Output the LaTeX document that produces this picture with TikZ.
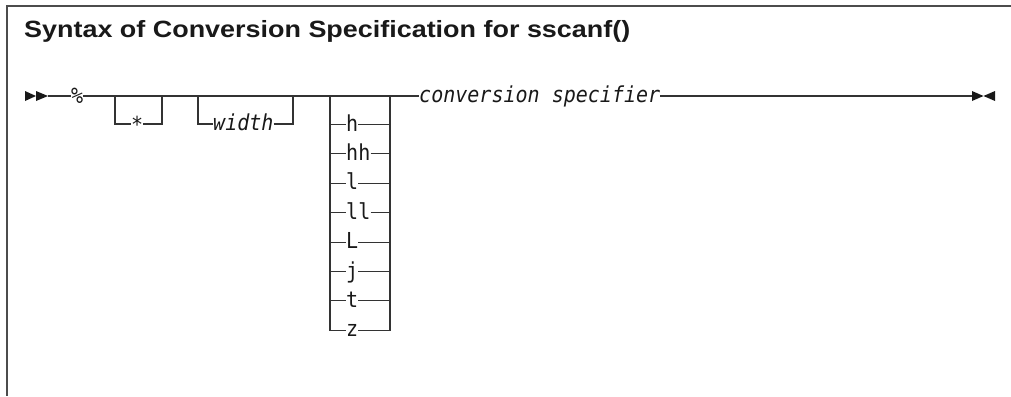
\documentclass[tikz,border=0pt]{standalone}
\usepackage{fontspec}
\setmainfont{Liberation Sans}
\newfontfamily\railfont[FakeStretch=0.91]{DejaVu Sans Mono}
\newfontfamily\headfont[FakeStretch=1.146]{Liberation Sans Bold}
\usetikzlibrary{positioning}

\begin{document}
\begin{tikzpicture}[
        x=1pt, y=-1pt,
        rail/.style={draw=black!80, line width=1.1pt},
        frame/.style={draw=black!70, line width=1.3pt},
        stop/.style={fill=black!90},
        kw/.style={inner sep=0pt, text height=15pt, text depth=2pt, anchor=west,
            text=black!90, font=\railfont\fontsize{22}{24}\selectfont},
        var/.style={kw, font=\railfont\itshape\fontsize{22}{24}\selectfont},
        heading/.style={inner sep=0pt, anchor=base west, text=black!90,
            font=\headfont\fontsize{23.5}{26}\selectfont}
    ]
    \useasboundingbox (0,0) rectangle (1011,396);
    \draw[frame] (1011,6) -- (7,6) -- (7,396);

    \node[heading] (title) at (24,37.5) {Syntax of Conversion Specification for sscanf()};

    \coordinate (in) at (48,96);
    \coordinate (out) at (972,96);
    \fill[stop] (in) ++(-23,-5) -- ++(11,5) -- ++(-11,5) -- cycle
        (in) ++(-12,-5) -- ++(12,5) -- ++(-12,5) -- cycle;
    \fill[stop] (out) ++(0,-5) -- ++(11.5,5) -- ++(-11.5,5) -- cycle
        (out) ++(23,-5) -- ++(-11.5,5) -- ++(11.5,5) -- cycle;

    \node[var] (pct) at (71,96) {\raisebox{-1.5pt}{\%}};
    \node[var] (conv) at (419,96) {conversion specifier};
    \draw[rail] (in) -- (pct) (pct) -- (conv) (conv) -- (out);

    \coordinate (starL) at (115,96);
    \coordinate (starR) at (162,96);
    \node[kw] (star) at (131,124) {\raisebox{-1.5pt}{*}};
    \draw[rail] (starL) |- (star) (star) -| (starR);

    \coordinate (widthL) at (198,96);
    \coordinate (widthR) at (293,96);
    \node[var] (width) at (213,124) {width};
    \draw[rail] (widthL) |- (width) (width) -| (widthR);

    \coordinate (modL) at (330,96);
    \coordinate (modR) at (390,96);
    \foreach \m [count=\i from 0] in {h,hh,l,ll,L,j,t,z} {
        \node[kw] (mod\i) at (346,{124.5+29.4*\i}) {\m};
        \draw[rail] (mod\i -| modL) -- (mod\i) (mod\i) -- (mod\i -| modR);
    }
    \draw[rail] (modL) |- (mod7) (mod7) -| (modR);
\end{tikzpicture}
\end{document}
